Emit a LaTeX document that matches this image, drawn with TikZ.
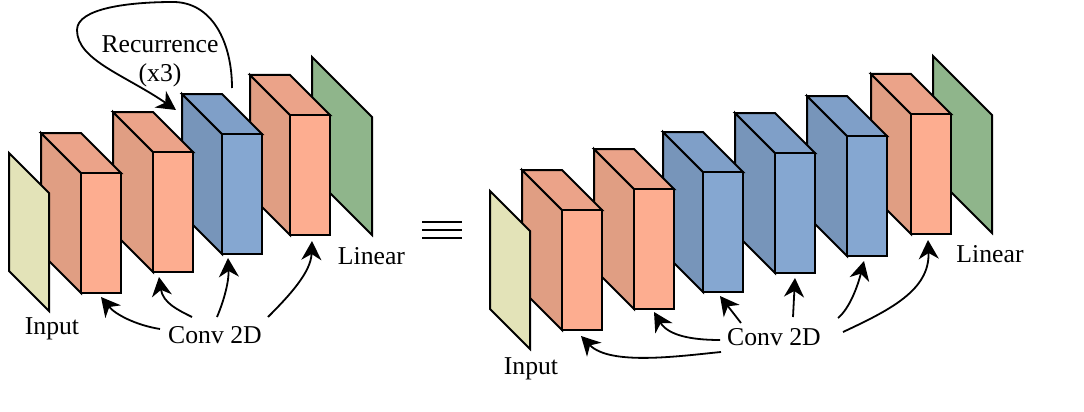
\documentclass[tikz,border=0pt]{standalone}
\usepackage{fontspec}
\setmainfont{Liberation Serif}
\usetikzlibrary{arrows.meta}
\definecolor{salF}{HTML}{FDAD90}
\definecolor{salS}{HTML}{E09E83}
\definecolor{salT}{HTML}{EBA389}
\definecolor{bluF}{HTML}{85A7D1}
\definecolor{bluS}{HTML}{7795BA}
\definecolor{bluT}{HTML}{7F9FC8}
\definecolor{inpC}{HTML}{E3E3B8}
\definecolor{linC}{HTML}{8FB58B}
\tikzset{
  x=1pt,y=-1pt,
  edgeline/.style={draw=black,line width=2pt,line join=miter},
  lab/.style={font=\fontsize{25.7}{26}\selectfont,inner sep=0pt,text=black},
  arr/.style={line width=1.8pt,-{Stealth[length=19pt,width=20pt,inset=6pt]},black},
  eqline/.style={line width=2pt,black}
}
% #1 front-left x, #2 top y, #3 front, #4 side, #5 top
\newcommand{\ncbox}[5]{%
  \filldraw[edgeline,fill=#4] (#1-40,#2-40) -- (#1,#2) -- (#1,#2+120) -- (#1-40,#2+80) -- cycle;
  \filldraw[edgeline,fill=#5] (#1-40,#2-40) -- (#1,#2-40) -- (#1+40,#2) -- (#1,#2) -- cycle;
  \filldraw[edgeline,fill=#3] (#1,#2) rectangle (#1+40,#2+120);
}
\newcommand{\ncplate}[4]{%
  \filldraw[edgeline,fill=#3] (#1,#2) -- (#1+#4,#2+#4) -- (#1+#4,#2+#4+118) -- (#1,#2+118) -- cycle;
}
\begin{document}
\begin{tikzpicture}
\useasboundingbox (0,0) rectangle (1084,412);
% left stack
\ncplate{312}{57}{linC}{60}
\ncbox{290}{115}{salF}{salS}{salT}
\ncbox{222}{134}{bluF}{bluS}{bluT}
\ncbox{153}{152}{salF}{salS}{salT}
\ncbox{81}{173}{salF}{salS}{salT}
\ncplate{9}{153}{inpC}{40}
% right stack
\ncplate{933}{56}{linC}{59}
\ncbox{911}{114}{salF}{salS}{salT}
\ncbox{847}{136}{bluF}{bluS}{bluT}
\ncbox{775}{153}{bluF}{bluS}{bluT}
\ncbox{703}{172}{bluF}{bluS}{bluT}
\ncbox{634}{189}{salF}{salS}{salT}
\ncbox{562}{210}{salF}{salS}{salT}
\ncplate{490}{191}{inpC}{40}
% labels
\node[lab] (rec) at (160,44) {Recurrence};
\node[lab] (x3) at (160,75) {(x3)};
\node[lab] (inL) at (52,329) {Input};
\node[lab] (convL) at (215,335) {Conv 2D};
\node[lab] (linL) at (371.5,256) {Linear};
\node[lab] (inR) at (531,369) {Input};
\node[lab] (convR) at (774,337) {Conv 2D};
\node[lab] (linR) at (990,254) {Linear};
% connector end points
\coordinate (recS) at (232,88);
\coordinate (recT) at (176,110);
\coordinate (lS1) at (160,329); \coordinate (lT1) at (101,297);
\coordinate (lS2) at (192,317); \coordinate (lT2) at (159,277);
\coordinate (lS3) at (217,317); \coordinate (lT3) at (228,258);
\coordinate (lS4) at (268,317); \coordinate (lT4) at (312,241);
\coordinate (rS1) at (721,352); \coordinate (rT1) at (581,336);
\coordinate (rS2) at (720,340); \coordinate (rT2) at (654,312);
\coordinate (rS3) at (741,323); \coordinate (rT3) at (720,296);
\coordinate (rS4) at (793,317); \coordinate (rT4) at (795,278);
\coordinate (rS5) at (838,318); \coordinate (rT5) at (864,261);
\coordinate (rS6) at (843,332); \coordinate (rT6) at (928,240);
\coordinate (eqA) at (422,222); \coordinate (eqB) at (462,222);
\coordinate (eqC) at (422,230); \coordinate (eqD) at (462,230);
\coordinate (eqE) at (422,238); \coordinate (eqF) at (462,238);
% recurrence
\draw[arr] (recS) .. controls (232,42) and (212,2) .. (173,2)
  .. controls (130,2) and (77,8) .. (77,30)
  .. controls (77,60) and (125,75) .. (recT);
% left arrows
\draw[arr] (lS1) .. controls (135,325) and (115,314) .. (lT1);
\draw[arr] (lS2) .. controls (178,310) and (163,303) .. (lT2);
\draw[arr] (lS3) .. controls (225,298) and (229,280) .. (lT3);
\draw[arr] (lS4) .. controls (290,295) and (311,272) .. (lT4);
% right arrows
\draw[arr] (rS1) .. controls (680,356) and (610,366) .. (rT1);
\draw[arr] (rS2) .. controls (690,340) and (668,335) .. (rT2);
\draw[arr] (rS3) -- (rT3);
\draw[arr] (rS4) -- (rT4);
\draw[arr] (rS5) .. controls (850,308) and (858,285) .. (rT5);
\draw[arr] (rS6) .. controls (890,310) and (930,290) .. (rT6);
% equals
\draw[eqline] (eqA) -- (eqB);
\draw[eqline] (eqC) -- (eqD);
\draw[eqline] (eqE) -- (eqF);
\end{tikzpicture}
\end{document}
